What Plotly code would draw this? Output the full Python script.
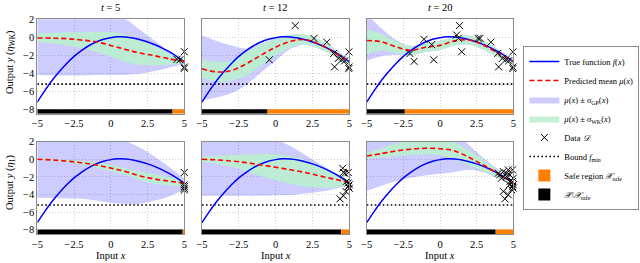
import plotly.graph_objects as go
from plotly.subplots import make_subplots

# ---------------- data ----------------
x_true = [-5.0, -4.5, -4.0, -3.5, -3.0, -2.5, -2.0, -1.5, -1.0, -0.5, 0.0,
          0.5, 1.0, 1.5, 2.0, 2.5, 3.0, 3.5, 4.0, 4.5, 5.0]
f_true = [-7.2, -5.95, -4.8, -3.8, -2.9, -2.12, -1.48, -0.94, -0.52, -0.22, -0.04,
          0.05, 0.03, -0.08, -0.27, -0.52, -0.83, -1.2, -1.63, -2.14, -2.72]
f_min = -5.2

x_grid = [-5, -4, -3, -2, -1, 0, 1, 2, 3, 4, 5]

# top row (eta_WK): t = 5, 12, 20
mean_tl = [-0.07, -0.1, -0.15, -0.3, -0.5, -0.9, -1.35, -1.75, -2.05, -2.4, -2.65]
wk_hi_tl = [0.45, 0.5, 0.55, 0.6, 0.6, 0.55, 0.3, -0.3, -1.0, -1.8, -2.45]
wk_lo_tl = [-0.55, -0.7, -0.9, -1.2, -1.6, -2.2, -2.75, -3.05, -3.1, -3.05, -2.85]
gp_hi_tl = [4.0, 3.8, 3.6, 3.3, 2.9, 2.4, 2.0, 0.8, -0.4, -1.6, -2.55]
gp_lo_tl = [-4.2, -4.25, -4.25, -4.25, -4.2, -4.2, -4.15, -4.05, -3.75, -3.35, -2.9]

mean_tm = [-3.5, -3.85, -3.7, -2.95, -2.0, -1.1, -0.45, -0.25, -0.8, -1.7, -2.75]
wk_hi_tm = [-2.5, -2.75, -2.6, -1.6, -0.8, -0.15, 0.25, 0.3, -0.3, -1.3, -2.45]
wk_lo_tm = [-4.5, -4.95, -4.8, -4.3, -3.2, -2.05, -1.15, -0.8, -1.3, -2.1, -3.05]
gp_hi_tm = [0.2, -0.4, -0.9, -1.25, -0.75, -0.1, 0.3, 0.32, -0.28, -1.28, -2.43]
gp_lo_tm = [-7.0, -6.7, -6.2, -5.3, -3.9, -2.6, -1.3, -0.82, -1.32, -2.12, -3.07]

mean_tr = [-0.35, -0.5, -1.05, -1.45, -1.1, -0.9, -0.4, -0.3, -0.9, -1.8, -2.7]
wk_hi_tr = [0.9, 0.4, -0.45, -1.0, -0.65, -0.45, 0.1, 0.15, -0.4, -1.4, -2.4]
wk_lo_tr = [-1.9, -1.5, -1.75, -1.95, -1.6, -1.4, -0.9, -0.8, -1.4, -2.25, -3.0]
gp_hi_tr = [2.6, 1.0, -0.3, -0.95, -0.62, -0.42, 0.12, 0.17, -0.38, -1.38, -2.38]
gp_lo_tr = [-2.6, -2.1, -1.95, -2.0, -1.63, -1.43, -0.92, -0.82, -1.42, -2.27, -3.02]

# bottom row (eta_1): t = 5, 12, 20
mean_bl = [0.0, -0.08, -0.2, -0.4, -0.65, -1.0, -1.4, -1.9, -2.25, -2.5, -2.7]
wk_hi_bl = [0.08, 0.02, -0.05, -0.2, -0.35, -0.65, -1.0, -1.4, -1.7, -2.05, -2.35]
wk_lo_bl = [-0.08, -0.18, -0.35, -0.6, -0.95, -1.35, -1.8, -2.4, -2.8, -2.95, -3.05]
gp_hi_bl = [4.0, 3.8, 3.6, 3.3, 3.0, 2.6, 2.1, 1.3, 0.3, -0.9, -2.2]
gp_lo_bl = [-4.35, -4.4, -4.45, -4.5, -4.7, -4.95, -5.1, -5.05, -4.7, -4.2, -3.4]

mean_bm = [0.0, -0.07, -0.2, -0.38, -0.65, -0.9, -1.2, -1.5, -1.9, -2.26, -2.64]
wk_hi_bm = [0.3, 0.4, 0.5, 0.55, 0.6, 0.55, 0.35, -0.1, -0.75, -1.6, -2.4]
wk_lo_bm = [-0.3, -0.5, -0.85, -1.35, -1.9, -2.4, -2.8, -3.1, -3.25, -3.2, -2.9]
gp_hi_bm = [4.0, 3.8, 3.5, 3.2, 2.8, 2.3, 1.5, 0.5, -0.5, -1.5, -2.4]
gp_lo_bm = [-4.15, -4.15, -4.15, -4.15, -4.15, -4.1, -4.05, -3.9, -3.7, -3.35, -2.95]

mean_br = [0.38, 0.65, 0.95, 1.15, 1.25, 1.2, 0.95, 0.2, -0.7, -1.7, -2.7]
wk_hi_br = [0.75, 1.25, 1.8, 2.2, 2.3, 2.2, 1.9, 1.0, -0.1, -1.3, -2.4]
wk_lo_br = [0.05, 0.2, 0.38, 0.5, 0.57, 0.45, 0.0, -0.7, -1.4, -2.2, -3.0]
gp_hi_br = [4.0, 4.0, 4.0, 4.0, 4.0, 4.0, 3.2, 1.6, 0.1, -1.2, -2.35]
gp_lo_br = [-3.6, -3.0, -2.5, -2.1, -1.85, -1.65, -1.45, -1.2, -1.5, -2.2, -3.05]

# observed data points
data_x_tl = [4.5, 4.7, 5.0, 5.0, 5.0]
data_y_tl = [-2.45, -2.5, -1.6, -3.3, -3.45]
data_x_tm = [1.33, -0.43, 2.6, 3.47, 3.94, 4.0, 4.25, 4.48, 4.68, 4.97, 4.97, 4.97]
data_y_tm = [1.3, -2.5, -0.12, -0.54, -1.79, -3.28, -2.35, -2.5, -2.62, -1.62, -3.3, -3.48]
data_x_tr = data_x_tm + [1.14, 1.25, 1.48, -1.09, -0.57, -2.05, -1.77, 2.73]
data_y_tr = data_y_tm + [0.26, -0.11, -1.6, -0.22, -0.81, -1.81, -2.67, -0.11]
data_x_bl = [5.0, 5.0, 5.0, 5.0, 5.0]
data_y_bl = [-1.5, -2.9, -3.1, -3.3, -3.5]
data_x_bm = [4.55, 4.6, 4.7, 4.93, 4.82, 4.93, 5.0, 4.93, 5.0, 4.77, 4.6, 4.37]
data_y_bm = [-1.02, -1.5, -1.6, -1.5, -2.5, -2.7, -2.9, -3.1, -3.3, -3.66, -4.15, -4.5]
data_x_br = [4.09, 4.32, 4.66, 4.95, 4.2, 4.55, 5.0, 4.77, 5.0, 5.0,
             4.89, 4.32, 4.43, 4.66, 4.95, 3.98, 4.55, 4.77, 4.95, 4.73]
data_y_br = [-1.77, -1.4, -1.2, -1.2, -2.15, -1.96, -2.15, -2.53, -2.9, -3.28,
             -3.47, -3.66, -4.5, -4.04, -3.1, -1.58, -1.58, -1.77, -2.53, -2.9]

# start of safe region (safe region extends to x = 5)
safe_start = [4.2, -0.55, -2.4, 4.9, 4.45, 3.8]

panel_titles = ["<i>t</i> = 5", "<i>t</i> = 12", "<i>t</i> = 20"]
x_ticks = [-5, -2.5, 0, 2.5, 5]
y_ticks = [2, 0, -2, -4, -6, -8]

panels = [
    (1, 1, mean_tl, wk_hi_tl, wk_lo_tl, gp_hi_tl, gp_lo_tl, data_x_tl, data_y_tl),
    (1, 2, mean_tm, wk_hi_tm, wk_lo_tm, gp_hi_tm, gp_lo_tm, data_x_tm, data_y_tm),
    (1, 3, mean_tr, wk_hi_tr, wk_lo_tr, gp_hi_tr, gp_lo_tr, data_x_tr, data_y_tr),
    (2, 1, mean_bl, wk_hi_bl, wk_lo_bl, gp_hi_bl, gp_lo_bl, data_x_bl, data_y_bl),
    (2, 2, mean_bm, wk_hi_bm, wk_lo_bm, gp_hi_bm, gp_lo_bm, data_x_bm, data_y_bm),
    (2, 3, mean_br, wk_hi_br, wk_lo_br, gp_hi_br, gp_lo_br, data_x_br, data_y_br),
]

# ---------------- style ----------------
FONT = "Liberation Serif"
BLUE = "#0000ff"
RED = "#ff0000"
GP_FILL = "rgba(0,0,255,0.2)"
WK_FILL = "rgba(185,240,205,0.88)"
ORANGE = "#ff8000"
GRID = "#d0d0d0"

fig = make_subplots(rows=2, cols=3)

x_dom = [[0.0583, 0.2880], [0.3156, 0.5458], [0.5730, 0.8020]]
y_dom = [[0.5673, 0.9266], [0.1103, 0.4612]]

x_lo, x_hi = x_ticks[0], x_ticks[-1]

for k, (r, c, mean, wk_hi, wk_lo, gp_hi, gp_lo, dx, dy) in enumerate(panels):
    first = (k == 0)
    # GP band
    fig.add_trace(go.Scatter(x=x_grid, y=gp_lo, mode="lines", line=dict(width=0, shape="spline"),
                             showlegend=False, hoverinfo="skip"), row=r, col=c)
    fig.add_trace(go.Scatter(x=x_grid, y=gp_hi, mode="lines", line=dict(width=0, shape="spline"),
                             fill="tonexty", fillcolor=GP_FILL,
                             name="<i>μ</i>(<i>x</i>) ± <i>σ</i><sub>GP</sub>(<i>x</i>)",
                             legendrank=3, showlegend=first), row=r, col=c)
    # WK band
    fig.add_trace(go.Scatter(x=x_grid, y=wk_lo, mode="lines", line=dict(width=0, shape="spline"),
                             showlegend=False, hoverinfo="skip"), row=r, col=c)
    fig.add_trace(go.Scatter(x=x_grid, y=wk_hi, mode="lines", line=dict(width=0, shape="spline"),
                             fill="tonexty", fillcolor=WK_FILL,
                             name="<i>μ</i>(<i>x</i>) ± <i>σ</i><sub>WK</sub>(<i>x</i>)",
                             legendrank=4, showlegend=first), row=r, col=c)
    # bound
    fig.add_trace(go.Scatter(x=[x_lo, x_hi], y=[f_min, f_min], mode="lines",
                             line=dict(color="black", width=1.6, dash="1.6px,2.4px"),
                             name="Bound <i>f</i><sub>min</sub>", legendrank=6,
                             showlegend=first), row=r, col=c)
    # true function
    fig.add_trace(go.Scatter(x=x_true, y=f_true, mode="lines",
                             line=dict(color=BLUE, width=1.5, shape="spline"),
                             name="True function <i>f</i>(<i>x</i>)", legendrank=1,
                             showlegend=first), row=r, col=c)
    # predicted mean
    fig.add_trace(go.Scatter(x=x_grid, y=mean, mode="lines",
                             line=dict(color=RED, width=1.6, dash="5px,3px", shape="spline"),
                             name="Predicted mean <i>μ</i>(<i>x</i>)", legendrank=2,
                             showlegend=first), row=r, col=c)
    # data
    fig.add_trace(go.Scatter(x=dx, y=dy, mode="markers",
                             marker=dict(symbol="x-thin-open", size=7, color="black",
                                         line=dict(color="black", width=1)),
                             name="Data <i>𝒟</i>", legendrank=5,
                             showlegend=first, cliponaxis=False), row=r, col=c)
    # unsafe / safe regions as horizontal bars
    s = safe_start[k]
    fig.add_trace(go.Bar(y=[-8.25], x=[s - x_lo], base=[x_lo], orientation="h", width=0.5,
                         marker=dict(color="black", line=dict(width=0)),
                         name="<i>𝒳</i>\\<i>𝒳</i><sub>safe</sub>", legendrank=8,
                         showlegend=first), row=r, col=c)
    fig.add_trace(go.Bar(y=[-8.25], x=[x_hi - s], base=[s], orientation="h", width=0.5,
                         marker=dict(color=ORANGE, line=dict(width=0)),
                         name="Safe region <i>𝒳</i><sub>safe</sub>", legendrank=7,
                         showlegend=first), row=r, col=c)

    fig.update_xaxes(domain=x_dom[c - 1], range=[x_lo, x_hi], tickvals=x_ticks,
                     showgrid=True, gridcolor=GRID, griddash="1px,2px", gridwidth=1,
                     showline=True, mirror=True, linecolor="#8c8c8c", linewidth=1,
                     zeroline=False, ticks="", automargin=False,
                     tickfont=dict(size=10.5, family=FONT, color="black"),
                     row=r, col=c)
    fig.update_yaxes(domain=y_dom[r - 1], range=[-8.5, 2.0001], tickvals=y_ticks,
                     showticklabels=(c == 1),
                     showgrid=True, gridcolor=GRID, griddash="1px,2px", gridwidth=1,
                     showline=True, mirror=True, linecolor="#8c8c8c", linewidth=1,
                     zeroline=False, ticks="", automargin=False,
                     tickfont=dict(size=10.5, family=FONT, color="black"),
                     row=r, col=c)

annotations = []
for i, t in enumerate(panel_titles):
    xc = (x_dom[i][0] + x_dom[i][1]) / 2
    annotations.append(dict(text=t, x=xc, y=1 - 7 / 263, xref="paper", yref="paper",
                            showarrow=False, xanchor="center", yanchor="middle",
                            font=dict(size=10.5, family=FONT, color="black")))
    annotations.append(dict(text="Input <i>x</i>", x=xc, y=1 - 255 / 263, xref="paper",
                            yref="paper", showarrow=False, xanchor="center", yanchor="middle",
                            font=dict(size=10.5, family=FONT, color="black")))
annotations.append(dict(text="Output <i>y</i> (<i>η</i><sub>WK</sub>)", x=10 / 640,
                        y=1 - 62 / 263, xref="paper", yref="paper", showarrow=False,
                        textangle=-90, xanchor="center", yanchor="middle",
                        font=dict(size=10.5, family=FONT, color="black")))
annotations.append(dict(text="Output <i>y</i> (<i>η</i><sub>1</sub>)", x=10 / 640,
                        y=1 - 183 / 263, xref="paper", yref="paper", showarrow=False,
                        textangle=-90, xanchor="center", yanchor="middle",
                        font=dict(size=10.5, family=FONT, color="black")))

fig.update_layout(
    width=640, height=263,
    margin=dict(l=0, r=0, t=0, b=0, autoexpand=False),
    paper_bgcolor="white", plot_bgcolor="white",
    barmode="overlay",
    font=dict(family=FONT, size=10, color="black"),
    annotations=annotations,
    legend=dict(x=0.999, y=1 - 128 / 263, xanchor="right", yanchor="middle",
                traceorder="normal",
                bordercolor="#8c8c8c", borderwidth=1, bgcolor="white",
                font=dict(size=8.5, family=FONT, color="black"),
                tracegroupgap=0, itemwidth=30),
)

fig.write_html("out.html", config={"displayModeBar": False},
               post_script="document.body.style.margin='0';document.body.style.overflow='hidden';")
